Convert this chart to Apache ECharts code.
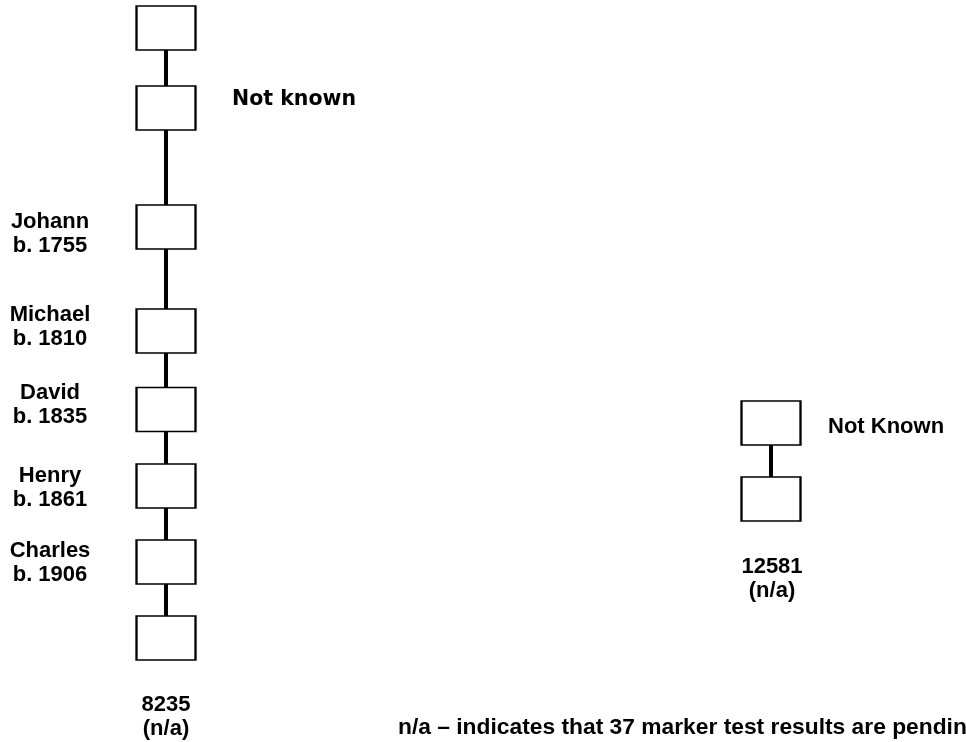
<!DOCTYPE html>
<html>
<head>
<meta charset="utf-8">
<title>Lineage chart</title>
<script src="https://cdn.jsdelivr.net/npm/echarts@6/dist/echarts.min.js"></script>
<style>
  html, body { margin: 0; padding: 0; background: #fff; }
  #chart { width: 966px; height: 742px; }
</style>
</head>
<body>
<div id="chart"></div>
<script>
// diagram data (x/y are in diagram units)
const columnX = [166, 771]
const leftGenY = [28, 108, 227, 331, 409.5, 486, 562, 638]
const rightGenY = [423, 499]
const ancestorNames = ['', '', 'Johann', 'Michael', 'David', 'Henry', 'Charles', '']
const birthYears = [null, null, 1755, 1810, 1835, 1861, 1906, null]
const kitNumbers = ['8235', '12581']
const kitStatus = ['(n/a)', '(n/a)']
const unknownLabels = ['Not known', 'Not Known']
const unknownIndex = [1, 0]
const footnote = 'n/a – indicates that 37 marker test results are pending'

// small vertical nudges for the name labels
const nameShift = [0, 0, 7, -4, -5, 2, 1, 0]

const boldArial = {
  fontFamily: 'Liberation Sans, Arial, sans-serif',
  fontWeight: 'bold',
  fontSize: 22,
  lineHeight: 24,
  color: '#000'
}

const unknownStyle = [
  { fontFamily: 'DejaVu Sans, Verdana, sans-serif', fontWeight: 'bold', fontSize: 20.5, color: '#000', offset: [66, -8] },
  { ...boldArial, offset: [57, 4] }
]

// build the items for one column
const buildColumn = (col, ys) => {
  const last = ys.length - 1
  return ys.map((y, i) => {
    const item = { value: [columnX[col], y] }
    if (col === 0 && ancestorNames[i]) {
      item.label = {
        show: true,
        position: 'inside',
        align: 'center',
        verticalAlign: 'middle',
        offset: [-116, nameShift[i]],
        formatter: ancestorNames[i] + '\nb. ' + birthYears[i],
        ...boldArial
      }
    } else if (i === unknownIndex[col]) {
      const st = unknownStyle[col]
      item.label = {
        show: true,
        position: 'inside',
        align: 'left',
        verticalAlign: 'middle',
        formatter: unknownLabels[col],
        ...st
      }
    } else if (i === last) {
      item.label = {
        show: true,
        position: 'inside',
        align: 'center',
        verticalAlign: 'middle',
        offset: [col === 0 ? 0 : 1, col === 0 ? 79 : 80],
        formatter: kitNumbers[col] + '\n' + kitStatus[col],
        ...boldArial
      }
    }
    return item
  })
}

const lineSeries = (data) => ({
  type: 'line',
  data: data,
  symbol: 'rect',
  symbolSize: [59, 44],
  showAllSymbol: true,
  clip: false,
  lineStyle: { color: '#000', width: 4 },
  itemStyle: { color: '#fff', borderColor: '#000', borderWidth: 2 },
  label: { show: false },
  emphasis: { disabled: true }
})

const chart = echarts.init(document.getElementById('chart'))

chart.setOption({
  animation: false,
  backgroundColor: '#fff',
  title: {
    text: footnote,
    left: 398,
    top: 716,
    padding: 0,
    textStyle: {
      fontFamily: 'Liberation Sans, Arial, sans-serif',
      fontWeight: 'bold',
      fontSize: 22.8,
      color: '#000'
    }
  },
  grid: { left: 0, right: 0, top: 0, bottom: 0 },
  xAxis: { type: 'value', min: 0, max: 966, show: false },
  yAxis: { type: 'value', min: 0, max: 742, inverse: true, show: false },
  series: [
    lineSeries(buildColumn(0, leftGenY)),
    lineSeries(buildColumn(1, rightGenY))
  ]
})

window.addEventListener('resize', () => chart.resize())
</script>
</body>
</html>
